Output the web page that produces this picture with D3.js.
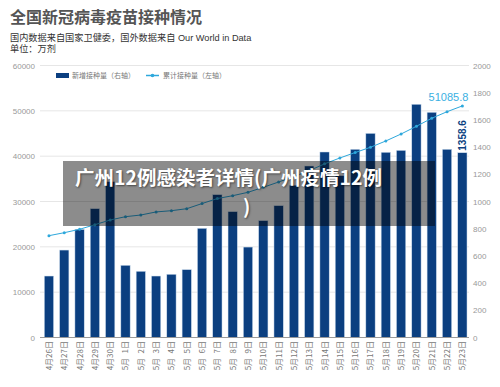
<!DOCTYPE html>
<html><head><meta charset="utf-8">
<script src="https://cdn.jsdelivr.net/npm/d3@7"></script>
<style>
body{margin:0;background:#fff;}
svg{display:block;font-family:"Noto Sans CJK SC","Noto Sans",sans-serif;}
</style></head>
<body><svg id="c" width="500" height="387"></svg>
<script>
const dates = ["4月26日","4月27日","4月28日","4月29日","4月30日","5月\u20071日","5月\u20072日","5月\u20073日","5月\u20074日","5月\u20075日","5月\u20076日","5月\u20077日","5月\u20078日","5月\u20079日","5月10日","5月11日","5月12日","5月13日","5月14日","5月15日","5月16日","5月17日","5月18日","5月19日","5月20日","5月21日","5月22日","5月23日"];
const daily = [452,643,795,947,1146,531,487,452,465,499,803,1050,925,665,859,969,1120,1261,1364,1190,1384,1501,1362,1376,1715,1656,1384,1358.6];
const cumulative = [22460,23120,23870,24880,25920,26650,27020,27700,27970,28410,29550,30650,31280,32030,33130,34300,35500,36800,38300,39600,40800,41960,43350,44890,46590,48360,49810,51085.8];
const leftTicks = [0,10000,20000,30000,40000,50000,60000];
const rightTicks = [0,200,400,600,800,1000,1200,1400,1600,1800,2000];

const svg = d3.select("#c");
const x0 = 40, x1 = 469, yTop = 65.5, yBot = 337.5;
const x = d3.scaleBand().domain(dates).range([39.7, 471.6]).paddingInner(0.393).paddingOuter(0.3);
const yL = d3.scaleLinear().domain([0,60000]).range([yBot,yTop]);
const yR = d3.scaleLinear().domain([0,2000]).range([yBot,yTop]);

// title
svg.append("text").attr("x",10).attr("y",23).attr("font-size",16).attr("font-weight","bold").attr("fill","#555").text("全国新冠病毒疫苗接种情况");
svg.append("text").attr("x",10).attr("y",40.5).attr("font-size",9.2).attr("fill","#333")
  .style("font-family","'Liberation Sans','Noto Sans CJK SC',sans-serif").text("国内数据来自国家卫健委，国外数据来自 Our World in Data");
svg.append("text").attr("x",10).attr("y",52).attr("font-size",9.2).attr("fill","#333")
  .style("font-family","'Liberation Sans','Noto Sans CJK SC',sans-serif").text("单位：万剂");

// gridlines
svg.append("g").selectAll("line").data(leftTicks.slice(1)).join("line")
  .attr("x1",x0).attr("x2",x1).attr("y1",d=>yL(d)).attr("y2",d=>yL(d))
  .attr("stroke","#e6e6e6").attr("stroke-width",1);

// left axis
const gl = svg.append("g").attr("transform",`translate(${x0},0)`)
  .call(d3.axisLeft(yL).tickValues(leftTicks).tickSize(0).tickPadding(5).tickFormat(d3.format("d")));
gl.select(".domain").remove();
gl.selectAll("text").attr("fill","#999").attr("font-size",8).style("font-family","Liberation Sans, Arial, sans-serif");

// right axis
const gr = svg.append("g").attr("transform",`translate(${x1},0)`)
  .call(d3.axisRight(yR).tickValues(rightTicks).tickSize(0).tickPadding(4).tickFormat(d3.format("d")));
gr.select(".domain").remove();
gr.selectAll("text").attr("fill","#999").attr("font-size",8).style("font-family","Liberation Sans, Arial, sans-serif");

// bars
svg.append("g").selectAll("rect").data(daily).join("rect")
  .attr("x",(d,i)=>x(dates[i])).attr("width",x.bandwidth())
  .attr("y",d=>yR(d)).attr("height",d=>yBot-yR(d))
  .attr("fill","#0b3f80").attr("stroke","#cfe0f0").attr("stroke-width",0.5);

// baseline
svg.append("line").attr("x1",x0).attr("x2",x1).attr("y1",yBot).attr("y2",yBot).attr("stroke","#9a9a9a");

// x labels
svg.append("g").selectAll("text").data(dates).join("text")
  .attr("transform",d=>`translate(${x(d)+x.bandwidth()/2+3},341) rotate(-90)`)
  .attr("text-anchor","end").attr("font-size",8).attr("fill","#777").text(d=>d);

// line
const cx = (i)=>x(dates[i])+x.bandwidth()/2;
svg.append("path").datum(cumulative)
  .attr("d",d3.line().x((d,i)=>cx(i)).y(d=>yL(d)))
  .attr("fill","none").attr("stroke","#2ea8dc").attr("stroke-width",1);
svg.append("g").selectAll("circle").data(cumulative).join("circle")
  .attr("cx",(d,i)=>cx(i)).attr("cy",d=>yL(d)).attr("r",1.5).attr("fill","#2ea8dc");

// annotations
const last = cumulative.length-1;
svg.append("text").attr("x",cx(last)+6).attr("y",yL(cumulative[last])-5).attr("text-anchor","end")
  .attr("font-size",11).attr("fill","#3ab0e2").style("font-family","Liberation Sans, Arial, sans-serif").text(d3.format(".1f")(cumulative[last]));
svg.append("text").attr("transform",`translate(${cx(last)+3.5},${yR(daily[last])-2}) rotate(-90)`)
  .attr("font-size",10).attr("font-weight","bold").attr("fill","#0b3f80").style("font-family","Liberation Sans, Arial, sans-serif").text(d3.format(".1f")(daily[last]));

// legend
svg.append("rect").attr("x",56).attr("y",73).attr("width",13).attr("height",5).attr("fill","#0b3f80");
svg.append("text").attr("x",72).attr("y",78).attr("font-size",7).attr("fill","#777").text("新增接种量（右轴）");
svg.append("line").attr("x1",146).attr("x2",159).attr("y1",75.5).attr("y2",75.5).attr("stroke","#2ea8dc").attr("stroke-width",1.5);
svg.append("circle").attr("cx",152.5).attr("cy",75.5).attr("r",1.8).attr("fill","#2ea8dc");
svg.append("text").attr("x",163).attr("y",78).attr("font-size",7).attr("fill","#777").text("累计接种量（左轴）");

// overlay
svg.append("rect").attr("x",63).attr("y",161).attr("width",372).attr("height",65).attr("fill","rgba(0,0,0,0.45)");
svg.append("text").attr("x",75).attr("y",185).attr("font-size",19.5).attr("font-weight","bold").attr("fill","#fff")
  .style("text-shadow","1px 1px 2px rgba(0,0,0,0.5)").text("广州12例感染者详情(广州疫情12例");
svg.append("text").attr("x",243).attr("y",214).attr("font-size",19.5).attr("font-weight","bold").attr("fill","#fff")
  .style("text-shadow","1px 1px 2px rgba(0,0,0,0.5)").text(")");
</script></body></html>
